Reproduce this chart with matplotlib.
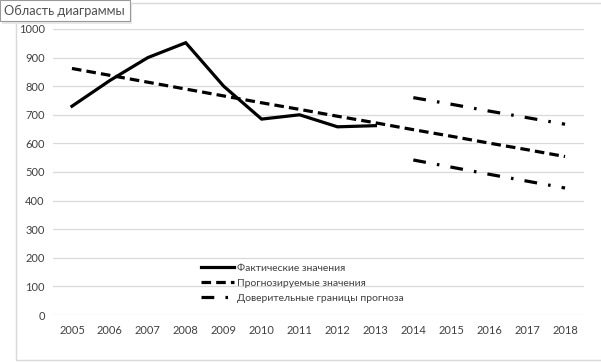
import matplotlib
matplotlib.use("Agg")
import matplotlib.pyplot as plt
from matplotlib.patches import Rectangle
from matplotlib.lines import Line2D

years = ["2005", "2006", "2007", "2008", "2009", "2010", "2011",
         "2012", "2013", "2014", "2015", "2016", "2017", "2018"]
actual = [730, 820, 900, 952, 800, 685, 700, 658, 662]
forecast = [862, 838, 814, 790, 766, 742, 719, 695, 672, 648, 625, 601, 578, 554]
upper = [760, 737, 713, 690, 667]
lower = [542, 517, 492, 468, 444]
bound_start = 9

labels = ["Фактические значения", "Прогнозируемые значения", "Доверительные границы прогноза"]
tooltip = "Область диаграммы"

plt.rcParams['font.family'] = ['Lato', 'DejaVu Sans']

W, H = 601, 363
fig = plt.figure(figsize=(W / 100, H / 100), dpi=100)
fig.patch.set_facecolor("white")

# outer chart border
fig.add_artist(Rectangle((16 / W, 1 - 360 / H), (640 - 16) / W, (360 - 3) / H,
                         transform=fig.transFigure, fill=False,
                         edgecolor="#d9d9d9", linewidth=1.0))

ax = fig.add_axes([53 / W, 1 - 315 / H, (584 - 53) / W, (315 - 29) / H])
ax.set_facecolor("none")
x_all = list(range(len(years)))

ax.plot(x_all[:len(actual)], actual, color="black", lw=2.3, solid_joinstyle="miter")
ax.plot(x_all, forecast, color="black", lw=2.3, dashes=(3.0, 1.6))
xb = x_all[bound_start:bound_start + len(upper)]
ax.plot(xb, upper, color="black", lw=2.3, dashes=(4.0, 3.5, 0.8, 3.5))
ax.plot(xb, lower, color="black", lw=2.3, dashes=(4.0, 3.5, 0.8, 3.5))

ax.set_xlim(-0.5, len(years) - 0.5)
ax.set_ylim(0, 1000)
ax.set_yticks(range(0, 1001, 100))
ax.set_xticks(x_all)
ax.set_xticklabels(years)
ax.grid(axis="y", color="#d9d9d9", lw=0.9)
ax.set_axisbelow(True)
for s in ax.spines.values():
    s.set_visible(False)
ax.tick_params(axis="both", length=0, labelsize=8, colors="#595959", labelcolor="#404040")
ax.tick_params(axis="y", pad=6)
ax.tick_params(axis="x", pad=7)

handles = [
    Line2D([], [], color="black", lw=2.3),
    Line2D([], [], color="black", lw=2.3, dashes=(3.0, 1.6)),
    Line2D([], [], color="black", lw=2.3, dashes=(4.0, 3.5, 0.8, 3.5)),
]
leg = ax.legend(handles, labels, loc="lower left", bbox_to_anchor=(0.27, 0.027),
                frameon=False, fontsize=7.5, handlelength=3.2, handletextpad=0.3,
                labelspacing=0.55, borderaxespad=0)
for t in leg.get_texts():
    t.set_color("#404040")

# tooltip box
fig.add_artist(Rectangle((2 / W, 1 - 24 / H), 130 / W, 21 / H,
                         transform=fig.transFigure, facecolor="#e8e8e8",
                         edgecolor="none", zorder=9))
fig.add_artist(Rectangle((0 / W, 1 - 21 / H), 130 / W, 21 / H,
                         transform=fig.transFigure, facecolor="white",
                         edgecolor="#9a9a9a", linewidth=0.8, zorder=10))
fig.text(4 / W, 1 - 11 / H, tooltip, fontsize=9.2, color="#505050",
         va="center", ha="left", zorder=11)

fig.savefig("out.png", dpi=100)
